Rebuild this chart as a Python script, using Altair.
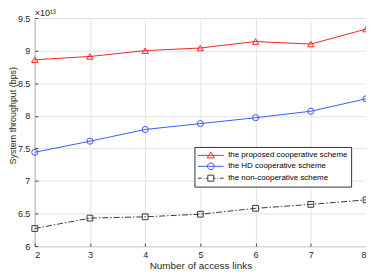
import altair as alt
import pandas as pd

# ---- data ----
links = [2, 3, 4, 5, 6, 7, 8]
proposed = [8.86, 8.91, 9.00, 9.04, 9.14, 9.10, 9.33]
hd = [7.44, 7.61, 7.79, 7.88, 7.97, 8.07, 8.26]
noncoop = [6.27, 6.43, 6.45, 6.49, 6.58, 6.64, 6.71]
series_names = [
    "the proposed cooperative scheme",
    "the HD cooperative scheme",
    "\u00a0the non-cooperative scheme",
]
y_ticks = [6, 6.5, 7, 7.5, 8, 8.5, 9, 9.5]
exponent_label = ["×10¹³"]

# ---- styles ----
colors = ["#ff2020", "#3a5bff", "#3a3a3a"]
markers = ["triangle-up", "circle", "square"]
marker_sizes = [40, 38, 34]
dashes = [None, None, [6, 2, 1.5, 2]]
# legend glyphs: line + marker, in units of 5px (symbolSize 100)
legend_paths = [
    "M-2.6,0 L2.6,0 M0,-0.7 L0.7,0.5 L-0.7,0.5 Z",
    "M-2.6,0 L2.6,0 M0.68,0 A0.68,0.68 0 1 1 -0.68,0 A0.68,0.68 0 1 1 0.68,0 Z",
    "M-2.6,0 L-1.8,0 M-1.45,0 L-1.3,0 M-0.95,0 L-0.6,0 "
    "M0.6,0 L0.95,0 M1.3,0 L1.45,0 M1.8,0 L2.6,0 "
    "M-0.6,-0.6 L0.6,-0.6 L0.6,0.6 L-0.6,0.6 Z",
]

rows = []
for name, vals in zip(series_names, [proposed, hd, noncoop]):
    for x, v in zip(links, vals):
        rows.append({"links": x, "thr": v, "series": name})
df = pd.DataFrame(rows)
df_exp = pd.DataFrame({"links": [links[0]], "thr": [y_ticks[-1]], "label": exponent_label})

FONT = "Liberation Sans"

xenc = alt.X(
    "links:Q",
    scale=alt.Scale(domain=[2, 8], nice=False),
    axis=alt.Axis(
        values=links, format="d", title="Number of access links",
        offset=-3, tickSize=3, labelPadding=4, titlePadding=2,
        titleFontSize=10,
    ),
)
yenc = alt.Y(
    "thr:Q",
    scale=alt.Scale(domain=[6, 9.5], nice=False, zero=False),
    axis=alt.Axis(
        values=y_ticks, format="~g", title="System throughput (bps)",
        offset=-3, tickSize=3, labelPadding=5,
        titleX=-25, titleY=98, titleAngle=270, titleAlign="center",
        titleBaseline="middle", titleFontSize=9,
    ),
)

base = alt.Chart(df).encode(x=xenc, y=yenc)

layers = []
for i, name in enumerate(series_names):
    flt = alt.FieldEqualPredicate(field="series", equal=name)
    line_kw = dict(color=colors[i], strokeWidth=1)
    if dashes[i] is not None:
        line_kw["strokeDash"] = dashes[i]
    layers.append(base.transform_filter(flt).mark_line(**line_kw))
for i, name in enumerate(series_names):
    flt = alt.FieldEqualPredicate(field="series", equal=name)
    layers.append(
        base.transform_filter(flt).mark_point(
            shape=markers[i], filled=False, color=colors[i],
            size=marker_sizes[i], strokeWidth=1, opacity=1,
        )
    )

leg = alt.Legend(
    orient="none", legendX=161, legendY=130, title=None,
    labelFont=FONT, labelFontSize=8, labelColor="#000000",
    symbolSize=100, symbolStrokeWidth=1, symbolOffset=8, labelOffset=12,
    padding=3, rowPadding=1, strokeColor="#333333", fillColor="#ffffff",
)
legend_layer = (
    base.transform_filter("false")
    .mark_point(filled=False, opacity=1, strokeWidth=1)
    .encode(
        color=alt.Color("series:N", scale=alt.Scale(domain=series_names, range=colors), legend=leg),
        shape=alt.Shape("series:N", scale=alt.Scale(domain=series_names, range=legend_paths), legend=leg),
    )
)
layers.append(legend_layer)

exp_text = (
    alt.Chart(df_exp)
    .mark_text(align="left", baseline="alphabetic", dy=-2, fontSize=9,
               font=FONT, color="#262626")
    .encode(x=xenc, y=yenc, text="label:N")
)
layers.append(exp_text)

chart = (
    alt.layer(*layers)
    .properties(
        width=334,
        height=230,
        padding={"left": 27, "top": 9, "right": 0, "bottom": 28},
        autosize=alt.AutoSizeParams(type="none"),
        background="white",
    )
    .configure(font=FONT)
    .configure_view(stroke="#555555", strokeWidth=1)
    .configure_axis(
        domain=False, grid=True, gridColor="#e3e3e3", gridWidth=1,
        tickColor="#444444", tickWidth=1,
        labelFont=FONT, labelFontSize=9, labelColor="#262626",
        titleFont=FONT, titleFontWeight="normal", titleColor="#262626",
    )
)

chart.save("out.html", embed_options={"renderer": "svg", "actions": False})
